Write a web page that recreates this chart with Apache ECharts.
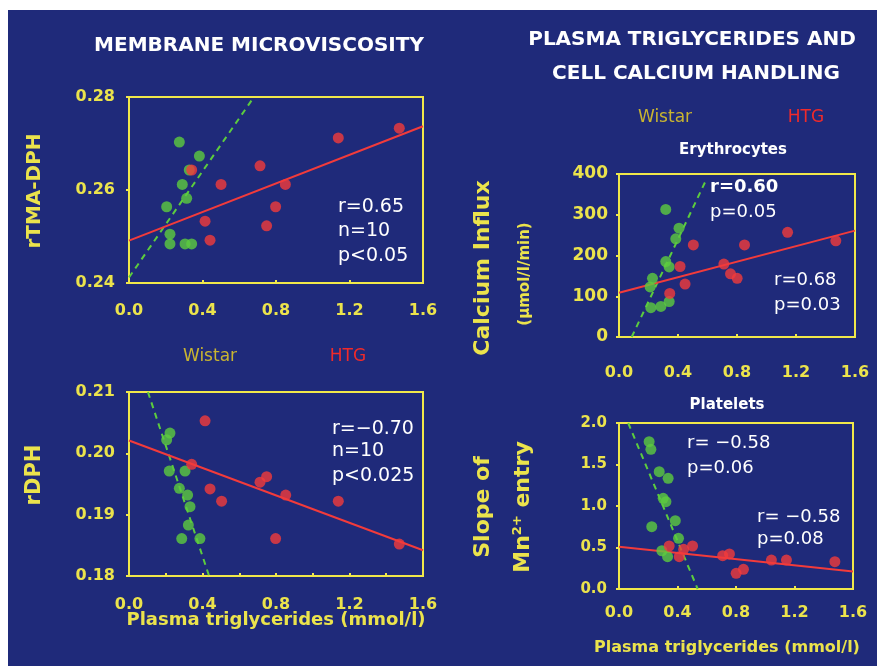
<!DOCTYPE html>
<html><head><meta charset="utf-8">
<script src="https://cdn.jsdelivr.net/npm/echarts@6/dist/echarts.min.js"></script>
<style>html,body{margin:0;padding:0;background:#fff}#c{width:877px;height:666px}</style>
</head><body><div id="c"></div>
<script>
// ---------- DATA ----------
const xTickValues = [0.0, 0.4, 0.8, 1.2, 1.6];
// Panel 1: membrane microviscosity rTMA-DPH
const p1Wistar = [[0.274,0.2703],[0.383,0.2673],[0.328,0.2643],[0.290,0.2612],[0.314,0.2582],[0.205,0.2564],[0.223,0.2505],[0.223,0.2484],[0.305,0.2484],[0.341,0.2484]];
const p1HTG = [[0.341,0.2643],[0.501,0.2612],[0.713,0.2652],[0.851,0.2612],[0.798,0.2564],[0.749,0.2523],[0.414,0.2533],[0.441,0.2492],[1.139,0.2712],[1.471,0.2733]];
const p1WistarFit = [[0.0,0.2412],[0.68,0.2800]];
const p1HTGFit = [[0.0,0.2491],[1.6,0.2737]];
// Panel 2: rDPH
const p2Wistar = [[0.223,0.2033],[0.205,0.2022],[0.219,0.1971],[0.305,0.1971],[0.274,0.1943],[0.319,0.1932],[0.332,0.1913],[0.323,0.1883],[0.287,0.1861],[0.386,0.1861]];
const p2HTG = [[0.414,0.2053],[0.341,0.1982],[0.441,0.1942],[0.504,0.1922],[0.713,0.1953],[0.749,0.1962],[0.853,0.1932],[0.798,0.1861],[1.139,0.1922],[1.471,0.1852]];
const p2WistarFit = [[0.103,0.2100],[0.436,0.1800]];
const p2HTGFit = [[0.0,0.2021],[1.6,0.1842]];
// Panel 3: erythrocyte calcium influx
const p3Wistar = [[0.317,313],[0.407,267],[0.385,241],[0.317,185],[0.340,172],[0.227,144],[0.211,123],[0.216,72],[0.284,75],[0.340,87]];
const p3HTG = [[0.344,107],[0.414,173],[0.448,130],[0.504,226],[0.711,179],[0.756,155],[0.801,144],[0.851,226],[1.143,257],[1.470,236]];
const p3WistarFit = [[0.086,0],[0.59,385]];
const p3HTGFit = [[0.0,108.5],[1.6,261]];
// Panel 4: platelet Mn2+ entry slope
const p4Wistar = [[0.206,1.775],[0.218,1.683],[0.275,1.413],[0.336,1.333],[0.302,1.093],[0.321,1.052],[0.385,0.823],[0.224,0.751],[0.407,0.611],[0.293,0.461],[0.332,0.389]];
const p4HTG = [[0.343,0.518],[0.412,0.389],[0.442,0.478],[0.503,0.518],[0.709,0.401],[0.755,0.422],[0.801,0.189],[0.851,0.237],[1.042,0.349],[1.145,0.349],[1.476,0.329]];
const p4WistarFit = [[0.063,2.0],[0.538,0.0]];
const p4HTGFit = [[0.0,0.51],[1.6,0.21]];

// ---------- STYLE ----------
const BG = '#1f2a7a';
const YEL = '#ebe34c';
const FRAME = '#f0e84a';
const RED = '#f23b3b';
const GREEN = '#5ccc3e';
const FONT = 'DejaVu Sans';

const grids = [
  {left:129, top:97, width:294, height:186},
  {left:129, top:392, width:294, height:184},
  {left:619, top:174, width:236, height:163},
  {left:619, top:423, width:234, height:166}
].map(g => Object.assign(g, {show:true, borderColor:FRAME, borderWidth:2, backgroundColor:'transparent'}));

function xAxis(i, margin, minor) {
  return {gridIndex:i, type:'value', min:0, max:1.6, interval:0.4,
    axisLine:{show:false}, splitLine:{show:false},
    axisTick:{show:true, inside:true, length:3, lineStyle:{color:FRAME, width:2}},
    minorTick:{show:!!minor, splitNumber:2, length:3, lineStyle:{color:FRAME, width:2}},
    axisLabel:{color:YEL, fontFamily:FONT, fontWeight:'bold', fontSize:16, margin:margin,
      formatter: v => v.toFixed(1)}};
}
function yAxis(i, min, max, interval, dec, fs, margin) {
  return {gridIndex:i, type:'value', min:min, max:max, interval:interval,
    axisLine:{show:false}, splitLine:{show:false},
    axisTick:{show:true, inside:false, length:3, lineStyle:{color:FRAME, width:2}},
    axisLabel:{color:YEL, fontFamily:FONT, fontWeight:'bold', fontSize:fs, margin:margin,
      formatter: v => v.toFixed(dec)}};
}

function panelSeries(i, w, h, wf, hf) {
  return [
    {type:'line', xAxisIndex:i, yAxisIndex:i, data:wf, symbol:'none', z:2,
      lineStyle:{color:GREEN, width:2, type:[6,5]}, silent:true},
    {type:'line', xAxisIndex:i, yAxisIndex:i, data:hf, symbol:'none', z:2,
      lineStyle:{color:RED, width:2}, silent:true},
    {type:'scatter', xAxisIndex:i, yAxisIndex:i, data:w, symbolSize:11, z:3,
      itemStyle:{color:GREEN}},
    {type:'scatter', xAxisIndex:i, yAxisIndex:i, data:h, symbolSize:11, z:3,
      itemStyle:{color:RED}}
  ];
}

function txt(text, x, y, o) {
  o = o || {};
  return {type:'text', x:x, y:y, rotation:o.rot || 0, z:10,
    style:{text:text, fill:o.color || '#fff', font:(o.weight||'bold')+' '+(o.size||16)+'px "'+FONT+'"',
      align:o.align || 'center', verticalAlign:'middle', rich:o.rich}};
}

const graphics = [
  {type:'rect', shape:{x:0,y:0,width:877,height:10}, style:{fill:'#fff'}, z:-1},
  {type:'rect', shape:{x:0,y:0,width:8,height:666}, style:{fill:'#fff'}, z:-1},
  txt('MEMBRANE MICROVISCOSITY', 259, 46, {size:20}),
  txt('PLASMA TRIGLYCERIDES AND', 692, 40, {size:20}),
  txt('CELL CALCIUM HANDLING', 696, 74, {size:20}),
  txt('rTMA-DPH', 35, 191, {size:20, color:YEL, rot:Math.PI/2}),
  txt('rDPH', 35, 475, {size:21, color:YEL, rot:Math.PI/2}),
  txt('Calcium Influx', 483, 268, {size:22, color:YEL, rot:Math.PI/2}),
  txt('(μmol/l/min)', 525, 274, {size:15, color:YEL, rot:Math.PI/2}),
  txt('Slope of', 483, 507, {size:22, color:YEL, rot:Math.PI/2}),
  {type:'text', x:523, y:507, rotation:Math.PI/2, z:10,
    style:{text:'{a|Mn}{b|2+}{a| entry}', align:'center', verticalAlign:'middle',
      rich:{a:{fill:YEL, font:'bold 22px "'+FONT+'"'}, b:{fill:YEL, font:'bold 13px "'+FONT+'"', verticalAlign:'top', padding:[0,0,10,0]}}}},
  txt('Wistar', 210, 357, {size:17, weight:'normal', color:'#c9b530'}),
  txt('HTG', 348, 357, {size:17, weight:'normal', color:'#f02a2a'}),
  txt('Wistar', 665, 118, {size:17, weight:'normal', color:'#c9b530'}),
  txt('HTG', 806, 118, {size:17, weight:'normal', color:'#f02a2a'}),
  txt('Erythrocytes', 733, 150, {size:15}),
  txt('Platelets', 727, 405, {size:15}),
  txt('Plasma triglycerides (mmol/l)', 276, 620, {size:18, color:YEL}),
  txt('Plasma triglycerides (mmol/l)', 727, 648, {size:16, color:YEL}),
  txt('r=0.65', 338, 207, {size:19, weight:'normal', align:'left'}),
  txt('n=10', 338, 231, {size:19, weight:'normal', align:'left'}),
  txt('p<0.05', 338, 256, {size:19, weight:'normal', align:'left'}),
  txt('r=−0.70', 332, 429, {size:19, weight:'normal', align:'left'}),
  txt('n=10', 332, 451, {size:19, weight:'normal', align:'left'}),
  txt('p<0.025', 332, 476, {size:19, weight:'normal', align:'left'}),
  txt('r=0.60', 710, 187, {size:18, align:'left'}),
  txt('p=0.05', 710, 212, {size:18, weight:'normal', align:'left'}),
  txt('r=0.68', 774, 280, {size:18, weight:'normal', align:'left'}),
  txt('p=0.03', 774, 305, {size:18, weight:'normal', align:'left'}),
  txt('r= −0.58', 687, 443, {size:18, weight:'normal', align:'left'}),
  txt('p=0.06', 687, 468, {size:18, weight:'normal', align:'left'}),
  txt('r= −0.58', 757, 517, {size:18, weight:'normal', align:'left'}),
  txt('p=0.08', 757, 539, {size:18, weight:'normal', align:'left'})
];

const chart = echarts.init(document.getElementById('c'), null, {renderer:'canvas'});
chart.setOption({
  backgroundColor: BG,
  animation: false,
  grid: grids,
  xAxis: [xAxis(0, 20, false), xAxis(1, 21, true), xAxis(2, 28, false), xAxis(3, 16, false)],
  yAxis: [
    yAxis(0, 0.24, 0.28, 0.02, 2, 16, 14),
    yAxis(1, 0.18, 0.21, 0.01, 2, 16, 14),
    yAxis(2, 0, 400, 100, 0, 17, 11),
    yAxis(3, 0, 2, 0.5, 1, 15, 12)
  ],
  series: [].concat(
    panelSeries(0, p1Wistar, p1HTG, p1WistarFit, p1HTGFit),
    panelSeries(1, p2Wistar, p2HTG, p2WistarFit, p2HTGFit),
    panelSeries(2, p3Wistar, p3HTG, p3WistarFit, p3HTGFit),
    panelSeries(3, p4Wistar, p4HTG, p4WistarFit, p4HTGFit)
  ),
  graphic: graphics
});
</script></body></html>
